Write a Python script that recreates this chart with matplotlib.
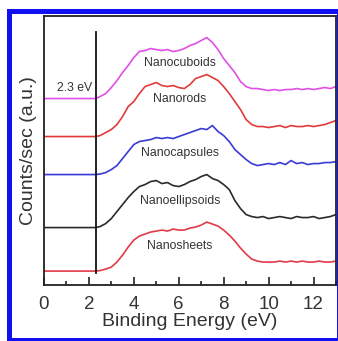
import matplotlib
matplotlib.use("Agg")
import numpy as np
import matplotlib.pyplot as plt
from matplotlib.patches import Rectangle
from matplotlib.ticker import MultipleLocator

plt.rcParams['font.family'] = ['Liberation Sans', 'DejaVu Sans']

# binding energy grid (eV)
energy = [0.0, 2.3, 2.5, 2.75, 3.0, 3.25, 3.5, 3.75, 4.0, 4.25, 4.5, 4.75,
          5.0, 5.25, 5.5, 5.75, 6.0, 6.25, 6.5, 6.75, 7.0, 7.25, 7.5, 7.75,
          8.0, 8.25, 8.5, 8.75, 9.0, 9.25, 9.5, 9.75, 10.0, 10.25, 10.5, 10.75,
          11.0, 11.25, 11.5, 11.75, 12.0, 12.25, 12.5, 12.75, 13.0]

# counts above each baseline (a.u.)
cuboids = [0, 0, 2, 5, 11, 18, 26, 33, 41, 47, 48, 50, 49, 48, 49, 47, 48, 50,
           53, 55, 58, 61, 56, 49, 40, 33, 26, 17, 12, 10, 10, 9, 8, 9, 8, 9,
           9, 10, 9, 10, 9, 10, 11, 10, 12]
rods = [0, 0, 1, 4, 7, 12, 20, 30, 35, 43, 50, 52, 54, 51, 50, 51, 49, 48, 52,
        58, 60, 62, 59, 56, 50, 43, 35, 27, 17, 12, 10, 10, 9, 10, 11, 9, 11,
        10, 10, 11, 10, 11, 12, 14, 16]
capsules = [0, 0, 0.5, 2, 5, 9, 16, 23, 30, 33, 34, 35, 37, 36, 37, 36, 38, 40,
            42, 44, 46, 45, 49, 43, 39, 33, 25, 20, 15, 11, 9, 10, 11, 10, 12,
            10, 14, 11, 12, 10, 11, 11, 12, 12, 13]
ellipsoids = [0, 0, 1, 4, 9, 16, 23, 30, 36, 41, 43, 46, 47, 44, 45, 42, 41,
              43, 46, 48, 51, 53, 49, 47, 43, 38, 27, 19, 13, 11, 10, 11, 9, 10,
              11, 10, 9, 11, 10, 10, 11, 9, 10, 11, 13]
sheets = [0, 0, 0.5, 2, 4, 9, 16, 24, 31, 35, 37, 39, 40, 41, 40, 42, 41, 41,
          43, 44, 46, 49, 47, 45, 41, 36, 30, 23, 17, 12, 10, 9, 9, 9, 10, 9,
          10, 9, 10, 9, 9, 10, 9, 9, 10]

names = ['Nanocuboids', 'Nanorods', 'Nanocapsules', 'Nanoellipsoids', 'Nanosheets']
series = [cuboids, rods, capsules, ellipsoids, sheets]
offsets = [186.5, 148.5, 110.5, 57.5, 14]
label_y = [221.7, 185.7, 132, 84, 39]
colors = ['#e050e8', '#e23a3a', '#3a3ad6', '#2a2a2a', '#e23a48']

fig = plt.figure(figsize=(3.38, 3.41), dpi=100)
ax = fig.add_axes([0.130, 0.164, 0.864, 0.789])

for name, y, off, ly, c in zip(names, series, offsets, label_y, colors):
    ax.plot(energy, np.array(y) + off, color=c, lw=1.2)
    ax.text(6.05, ly, name, ha='center', va='center', fontsize=8.8, color='#333333')

ax.plot([2.3, 2.3], [12, 253], color='#111111', lw=1.3)
ax.text(1.35, 197, '2.3 eV', ha='center', va='center', fontsize=8.8, color='#333333')

ax.set_xlim(0, 13)
ax.set_ylim(0, 269)
ax.set_yticks([])
ax.xaxis.set_major_locator(MultipleLocator(2))
ax.xaxis.set_minor_locator(MultipleLocator(1))
ax.tick_params(axis='x', which='major', direction='in', length=6, width=1.2,
               labelsize=13.5, pad=8, colors='#222222', labelcolor='#333333')
ax.tick_params(axis='x', which='minor', direction='in', length=3, width=1.2,
               colors='#222222')
for s in ax.spines.values():
    s.set_linewidth(1.3)
    s.set_color('#222222')

ax.set_xlabel('Binding Energy (eV)', fontsize=14, color='#333333', labelpad=0)
ax.set_ylabel('Counts/sec (a.u.)', fontsize=14, color='#333333', labelpad=5)

fig.patches.append(Rectangle((0.0281, 0.003), 0.9734, 0.9633, transform=fig.transFigure,
                             fill=False, ec='#1010f0', lw=3.6, zorder=10))

fig.savefig('out.png', dpi=100)
